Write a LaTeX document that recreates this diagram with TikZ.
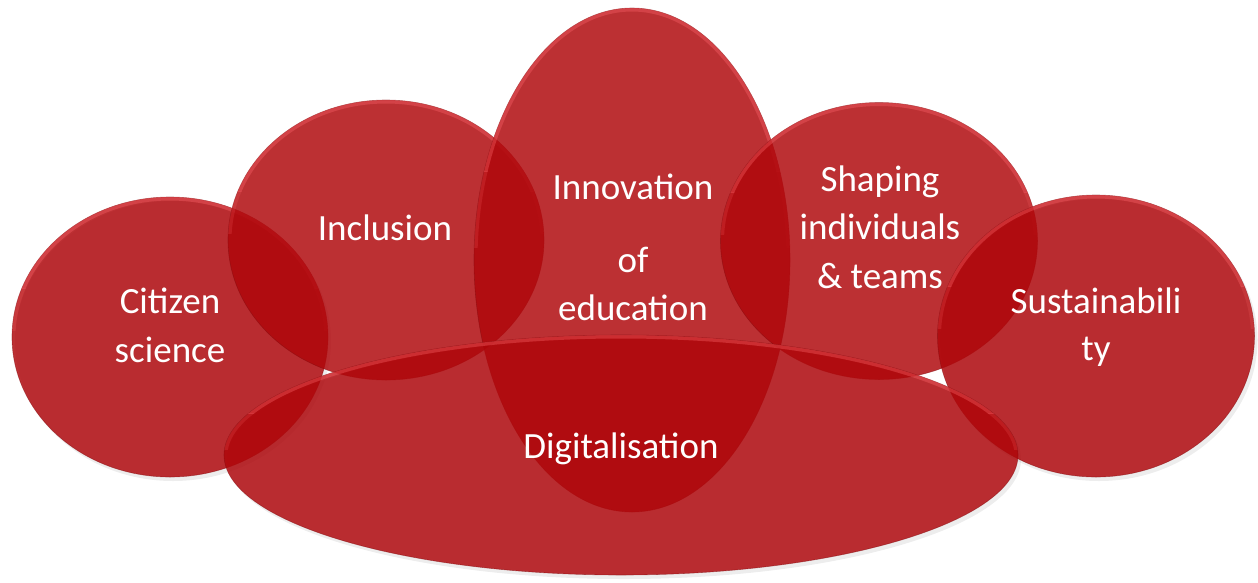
\documentclass[tikz,border=0pt]{standalone}
\usepackage{fontspec}
\setmainfont{Carlito}
\usetikzlibrary{shapes.geometric}
\definecolor{bubble}{RGB}{175,6,10}
\definecolor{rim}{RGB}{130,8,12}
\definecolor{glow}{RGB}{245,95,100}
\newcommand{\bubglow}[4]{%
  \begin{scope}
    \clip (#1,#2) ellipse [x radius=#3pt, y radius=#4pt];
    \clip (#1-#3-5,#2-#4-5) rectangle (#1+#3+5,#2-0.35*#4);
    \draw[glowline] (#1,#2) ellipse [x radius=#3pt, y radius=#4pt];
  \end{scope}
  \begin{scope}
    \clip (#1,#2) ellipse [x radius=#3pt, y radius=#4pt];
    \clip (#1-#3-5,#2-0.35*#4) rectangle (#1+#3+5,#2-0.05*#4);
    \draw[glowline, draw opacity=0.2] (#1,#2) ellipse [x radius=#3pt, y radius=#4pt];
  \end{scope}}
\begin{document}
\begin{tikzpicture}[x=1pt,y=-1pt,
  bub/.style={ellipse, inner sep=0pt, fill=bubble, fill opacity=0.83, draw=rim, draw opacity=0.5, line width=0.6pt},
  shad/.style={ellipse, inner sep=0pt, fill=black, fill opacity=0.07},
  glowline/.style={draw=glow, line width=7pt, draw opacity=0.4},
  lbl/.style={text=white, font=\fontsize{37}{44}\selectfont, anchor=base, inner sep=0pt}]
\useasboundingbox (0,0) rectangle (1258,582);
% shadows
\node[shad, minimum width=316pt, minimum height=280pt] (s1) at (173,341) {};
\node[shad, minimum width=317pt, minimum height=282pt] (s5) at (1099,340) {};
\node[shad, minimum width=794pt, minimum height=240pt] (s6) at (624,459) {};
% bubbles
\node[bub, minimum width=316pt, minimum height=280pt] (cit) at (170,337) {};
\bubglow{170}{337}{158}{140}
\node[bub, minimum width=316pt, minimum height=280pt] (inc) at (386,240) {};
\bubglow{386}{240}{158}{140}
\node[bub, minimum width=316pt, minimum height=504pt] (inn) at (632,260) {};
\bubglow{632}{260}{158}{252}
\node[bub, minimum width=317pt, minimum height=277pt] (sha) at (879,241) {};
\bubglow{879}{241}{158.5}{138.5}
\node[bub, minimum width=317pt, minimum height=282pt] (sus) at (1096,336) {};
\bubglow{1096}{336}{158.5}{141}
\node[bub, minimum width=794pt, minimum height=240pt] (dig) at (621,455) {};
\bubglow{621}{455}{397}{120}
% labels
\node[lbl] (t1a) at (170,313) {Citizen};
\node[lbl] (t1b) at (170,362) {science};
\node[lbl] (t2) at (385,240) {Inclusion};
\node[lbl] (t3a) at (633,199) {Innovation};
\node[lbl] (t3b) at (633,272) {of};
\node[lbl] (t3c) at (633,320) {education};
\node[lbl] (t4a) at (880,191) {Shaping};
\node[lbl] (t4b) at (880,239) {individuals};
\node[lbl] (t4c) at (880,288) {\&\ teams};
\node[lbl] (t5a) at (1096,313) {Sustainabili};
\node[lbl] (t5b) at (1096,360) {ty};
\node[lbl] (t6) at (621,458) {Digitalisation};
\end{tikzpicture}
\end{document}
